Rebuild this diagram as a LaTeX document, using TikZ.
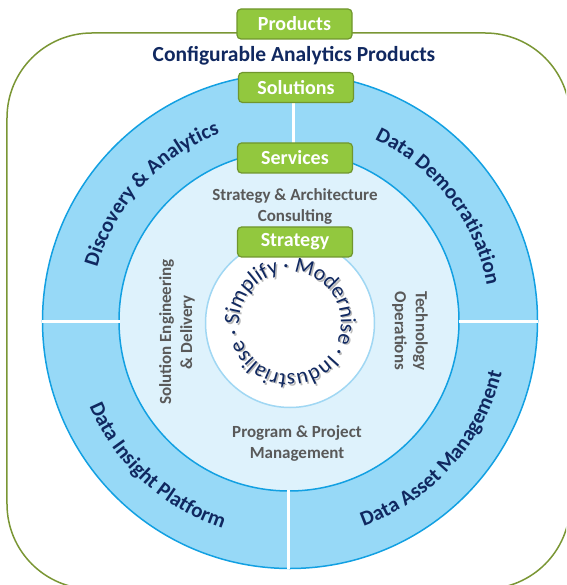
\documentclass[tikz,border=0pt]{standalone}
\usepackage{fontspec}
\setmainfont{Carlito}
\usetikzlibrary{decorations.text}
\definecolor{frameGreen}{RGB}{122,150,52}
\definecolor{boxGreen}{RGB}{146,200,62}
\definecolor{boxEdge}{RGB}{112,150,45}
\definecolor{ringBlue}{RGB}{151,217,247}
\definecolor{ringEdge}{RGB}{18,160,226}
\definecolor{paleBlue}{RGB}{222,242,252}
\definecolor{coreEdge}{RGB}{160,215,243}
\definecolor{navy}{RGB}{16,40,96}
\definecolor{greyText}{RGB}{89,89,89}
\newcommand{\ringfont}{\fontsize{21}{25}\selectfont\bfseries\color{navy}}
\newcommand{\corefont}{\fontsize{22}{25}\selectfont\color{navy}}
\newcommand{\coreshadow}{\fontsize{22}{25}\selectfont\color{black!28}}
\tikzset{
  greenbox/.style={draw=boxEdge, fill=boxGreen, line width=1.2pt, rounded corners=4pt,
    minimum width=115pt, minimum height=30pt, inner sep=0pt, text=white,
    font=\fontsize{20}{24}\selectfont\bfseries},
  greytext/.style={text=greyText, font=\fontsize{17}{21}\selectfont\bfseries, align=center, inner sep=0pt},
  divider/.style={white, line width=3pt},
  ringdisk/.style={circle, inner sep=0pt, line width=1.5pt},
}
\begin{document}
\begin{tikzpicture}[x=1pt,y=1pt]
\useasboundingbox (-290,-264) rectangle (276,321);
\clip (-290,-264) rectangle (276,321);
% outer frame
\draw[frameGreen, line width=1.5pt, rounded corners=85pt] (-283,-268) rectangle (280,288);
% rings
\node[ringdisk, draw=ringEdge, fill=ringBlue, minimum size=495pt] (outerring) at (0,0) {};
\node[ringdisk, draw=ringEdge, fill=paleBlue, minimum size=340pt] (innerring) at (-1,0) {};
% dividers
\draw[divider] (3,169) -- (3,248);
\draw[divider] (-2,-169) -- (-2,-248);
\draw[divider] (-248,-1) -- (-170,-1);
\draw[divider] (169,-1) -- (248,-1);
% core
\node[ringdisk, draw=coreEdge, fill=white, minimum size=169pt] (core) at (0,-2) {};
% green boxes
\node[greenbox] (products) at (4.5,297) {Products};
\node[greenbox] (solutions) at (6,233.5) {Solutions};
\node[greenbox] (services) at (5,163) {Services};
\node[greenbox] (strategy) at (5,79) {Strategy};
% title
\node[text=navy, font=\fontsize{21.5}{25}\selectfont\bfseries, inner sep=0pt] (title) at (4,265) {Configurable Analytics Products};
% grey texts
\node[greytext] (sac) at (5,115) {Strategy \& Architecture\\Consulting};
\node[greytext] (ppm) at (7,-122) {Program \& Project\\Management};
\node[greytext, rotate=90] (sed) at (-113,-11) {Solution Engineering\\\& Delivery};
\node[greytext, rotate=-90] (tops) at (120,-10) {Technology\\Operations};
% ring labels
\path[decorate, decoration={text along path, text align=center, text={|\ringfont|Discovery {\&} Analytics}}]
  (177.5:200) arc[start angle=177.5, end angle=97.5, radius=200];
\path[decorate, decoration={text along path, text align=center, text={|\ringfont|Data Democratisation}}]
  (77.6:200) arc[start angle=77.6, end angle=-2.4, radius=200];
\path[decorate, decoration={text along path, text align=center, text={|\ringfont|Data Insight Platform}}]
  (187.5:218) arc[start angle=187.5, end angle=267.5, radius=218];
\path[decorate, decoration={text along path, text align=center, text={|\ringfont|Data Asset Management}}]
  (-82:218) arc[start angle=-82, end angle=-2, radius=218];
% core words: shadow then text
\foreach \fmt/\dx/\dy in {\coreshadow/1.5/-1.5, \corefont/0/0}{
\begin{scope}[shift={(\dx,-2+\dy)}]
\path[decorate, decoration={text along path, text align=center, text={|\fmt|Simplify}}]
  (202:51) arc[start angle=202, end angle=82, radius=51];
\path[decorate, decoration={text along path, text align=center, text={|\fmt|·}}]
  (114:51) arc[start angle=114, end angle=74, radius=51];
\path[decorate, decoration={text along path, text align=center, text={|\fmt|Modernise}}]
  (111.5:51) arc[start angle=111.5, end angle=-48.5, radius=51];
\path[decorate, decoration={text along path, text align=center, text={|\fmt|·}}]
  (-11:51) arc[start angle=-11, end angle=-51, radius=51];
\path[decorate, decoration={text along path, text align=center, text={|\fmt|Industrialise}}]
  (-10:51) arc[start angle=-10, end angle=-190, radius=51];
\path[decorate, decoration={text along path, text align=center, text={|\fmt|·}}]
  (-150:51) arc[start angle=-150, end angle=-190, radius=51];
\end{scope}
}
\end{tikzpicture}
\end{document}
